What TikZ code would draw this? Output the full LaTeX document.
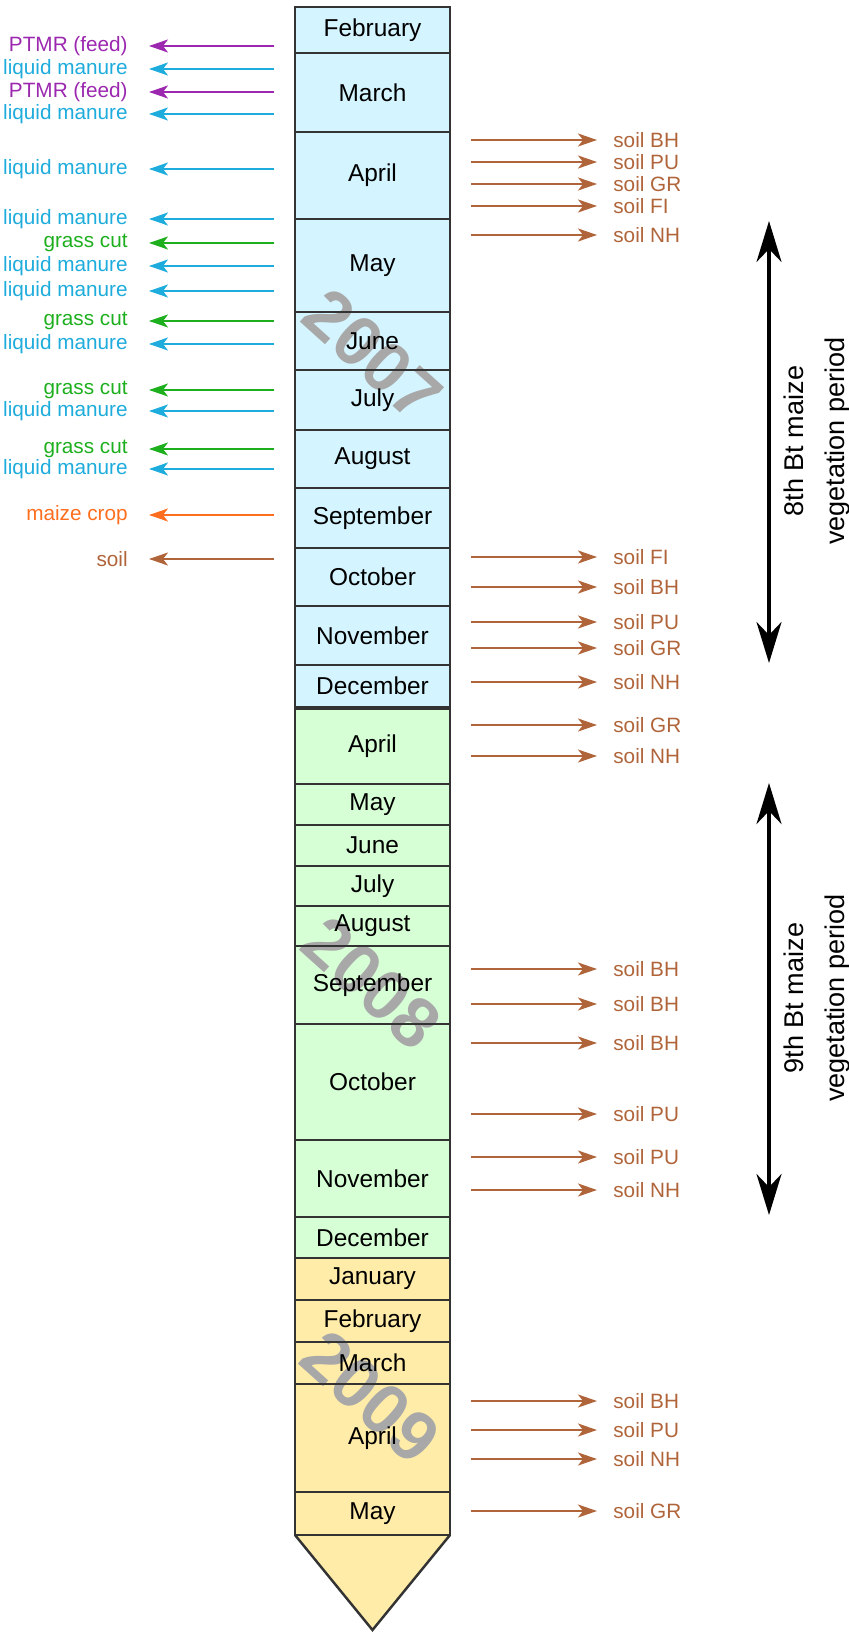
\documentclass[tikz,border=0pt]{standalone}
\usepackage{fontspec}
\setmainfont{Liberation Sans}
\usetikzlibrary{arrows.meta}

\definecolor{ptmr}{RGB}{155,40,175}
\definecolor{manure}{RGB}{30,172,220}
\definecolor{grass}{RGB}{30,175,30}
\definecolor{maize}{RGB}{255,110,30}
\definecolor{soil}{RGB}{176,100,58}
\definecolor{y7}{RGB}{212,244,255}
\definecolor{y8}{RGB}{214,255,214}
\definecolor{y9}{RGB}{255,236,168}
\definecolor{wmark}{RGB}{168,168,168}

\pgfdeclarelayer{fills}
\pgfdeclarelayer{marks}
\pgfsetlayers{fills,marks,main}

\tikzstyle{month} = [font=\fontsize{13.9}{16}\selectfont, inner sep=0pt]
\tikzstyle{src} = [font=\fontsize{11.8}{14}\selectfont, inner sep=0pt, anchor=east]
\tikzstyle{dst} = [font=\fontsize{11.8}{14}\selectfont, inner sep=0pt, anchor=west, text=soil]
\tikzstyle{larr} = [-{Stealth[length=0.38cm,width=0.26cm,inset=0.1cm]}, line width=1.1pt, shorten >=0.42cm]
\tikzstyle{rarr} = [-{Stealth[length=0.38cm,width=0.26cm,inset=0.1cm]}, soil, line width=1.1pt, shorten >=0.32cm]
\tikzstyle{period} = [{Stealth[length=0.82cm,width=0.5cm,inset=0.26cm]}-{Stealth[length=0.82cm,width=0.5cm,inset=0.26cm]}, line width=2pt]
\tikzstyle{vtext} = [font=\fontsize{15.4}{22.8}\selectfont, rotate=90, align=center, inner sep=0pt]
\tikzstyle{year} = [font=\fontsize{40}{40}\selectfont\bfseries, text=wmark, rotate=-42, inner sep=0pt]

\begin{document}
\begin{tikzpicture}[x=0.02cm, y=-0.02cm]
\useasboundingbox (0,0) rectangle (848,1635);

% month column
\foreach \t/\b/\m/\f [count=\i] in {7/53/February/y7, 53/132/March/y7, 132/219/April/y7,
    219/312/May/y7, 312/370/June/y7, 370/430/July/y7, 430/488/August/y7,
    488/548/September/y7, 548/606/October/y7, 606/665/November/y7, 665/707/December/y7,
    709/784/April/y8, 784/825/May/y8, 825/866/June/y8, 866/906/July/y8, 906/946/August/y8,
    946/1024/September/y8, 1024/1140/October/y8, 1140/1217/November/y8, 1217/1258/December/y8,
    1258/1300/January/y9, 1300/1342/February/y9, 1342/1384/March/y9, 1384/1492/April/y9,
    1492/1535/May/y9} {
  \begin{pgfonlayer}{fills}
    \fill[\f] (295,\t) rectangle (450,\b);
  \end{pgfonlayer}
  \draw[line width=1.4pt, black!80] (295,\t) rectangle (450,\b);
  \node[month] (m\i) at (372.5,{(\t+\b)/2}) {\m};
}
\begin{pgfonlayer}{fills}
  \fill[y9] (295,1535) -- (372.5,1630) -- (450,1535) -- cycle;
\end{pgfonlayer}
\draw[line width=1.4pt, black!80, line join=miter] (295,1535) -- (372.5,1630) -- (450,1535);

% years
\begin{pgfonlayer}{marks}
  \node[year] (y2007) at (373,355) {2007};
  \node[year] (y2008) at (372,983) {2008};
  \node[year] (y2009) at (371,1397) {2009};
\end{pgfonlayer}

% samples taken (left)
\foreach \y/\t/\c [count=\i] in {46/PTMR (feed)/ptmr, 69/liquid manure/manure,
    92/PTMR (feed)/ptmr, 114/liquid manure/manure, 169/liquid manure/manure,
    219/liquid manure/manure, 243/grass cut/grass, 266/liquid manure/manure,
    291/liquid manure/manure, 321/grass cut/grass, 344/liquid manure/manure,
    390/grass cut/grass, 411/liquid manure/manure, 449/grass cut/grass,
    469/liquid manure/manure, 515/maize crop/maize, 559/soil/soil} {
  \coordinate (ls\i) at (274,\y);
  \node[src, text=\c] (l\i) at (128,\y) {\t};
  \draw[larr, \c] (ls\i) -- (l\i);
}

% soil samples (right)
\foreach \y/\t [count=\i] in {140/BH, 162/PU, 184/GR, 206/FI, 235/NH,
    557/FI, 587/BH, 622/PU, 648/GR, 682/NH, 725/GR, 756/NH,
    969/BH, 1004/BH, 1043/BH, 1114/PU, 1157/PU, 1190/NH,
    1401/BH, 1430/PU, 1459/NH, 1511/GR} {
  \coordinate (rs\i) at (471,\y);
  \node[dst] (r\i) at (613,\y) {soil \t};
  \draw[rarr] (rs\i) -- (r\i);
}

% vegetation periods
\coordinate (p8a) at (769,221);
\coordinate (p8b) at (769,663);
\draw[period] (p8a) -- (p8b);
\node[vtext] (v8) at (817,441) {8th Bt maize\\vegetation period};
\coordinate (p9a) at (769,783);
\coordinate (p9b) at (769,1215);
\draw[period] (p9a) -- (p9b);
\node[vtext] (v9) at (817,998) {9th Bt maize\\vegetation period};
\end{tikzpicture}
\end{document}
